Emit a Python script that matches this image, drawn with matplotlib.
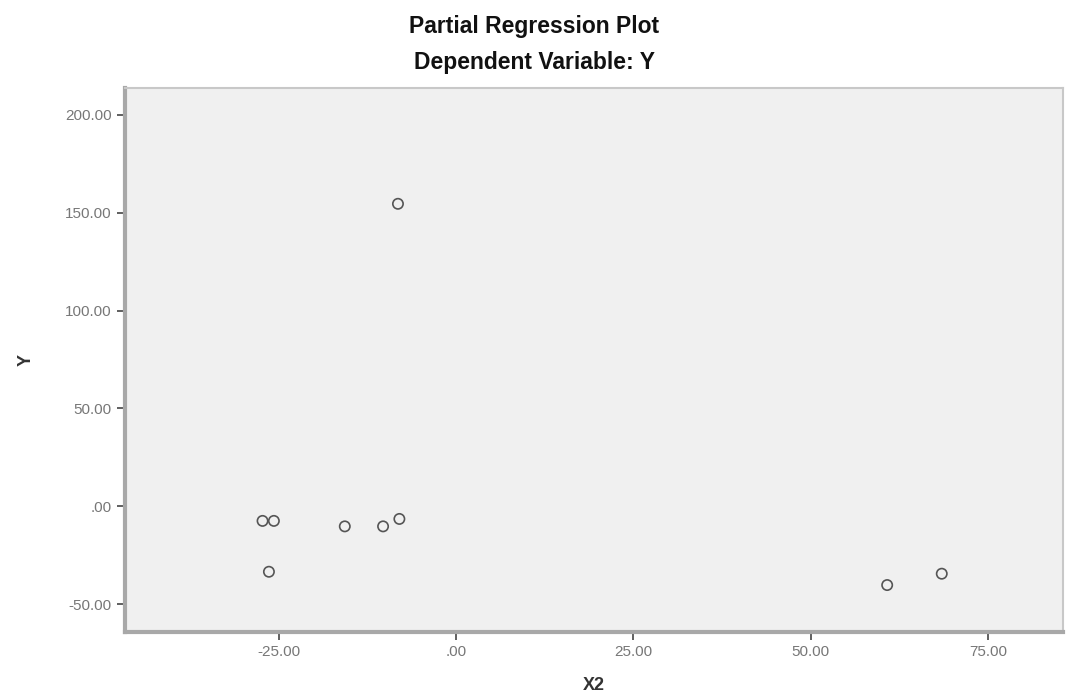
import matplotlib
matplotlib.use("Agg")
import matplotlib.pyplot as plt

# data (partial residuals)
x2_resid = [-8.2, -27.3, -25.7, -26.4, -15.7, -10.3, -8.0, 60.8, 68.5]
y_resid = [154.6, -7.5, -7.5, -33.5, -10.3, -10.3, -6.5, -40.3, -34.5]

x_ticks = [-25, 0, 25, 50, 75]
x_tick_labels = ["-25.00", ".00", "25.00", "50.00", "75.00"]
y_ticks = [-50, 0, 50, 100, 150, 200]
y_tick_labels = ["-50.00", ".00", "50.00", "100.00", "150.00", "200.00"]

plt.rcParams["font.family"] = ["Liberation Sans", "DejaVu Sans"]

fig = plt.figure(figsize=(10.68, 6.96), dpi=100)
ax = fig.add_axes([125/1068, 1-632/696, (1063-125)/1068, (632-88)/696])
ax.set_facecolor("#f0f0f0")

ax.scatter(x2_resid, y_resid, s=55, facecolors="none", edgecolors="#555555", linewidths=1.2, zorder=3)

ax.set_xlim(-46.7, 85.6)
ax.set_ylim(-64.3, 213.8)
ax.set_xticks(x_ticks)
ax.set_xticklabels(x_tick_labels)
ax.set_yticks(y_ticks)
ax.set_yticklabels(y_tick_labels)
ax.tick_params(axis="both", colors="#444444", labelcolor="#777777", labelsize=11, length=6, width=1.2, direction="out")

for side in ["left", "bottom"]:
    ax.spines[side].set_color("#a8a8a8")
    ax.spines[side].set_linewidth(3)
for side in ["top", "right"]:
    ax.spines[side].set_color("#c8c8c8")
    ax.spines[side].set_linewidth(1.5)

ax.set_xlabel("X2", fontsize=13, fontweight="bold", color="#333333", labelpad=13)
ax.set_ylabel("Y", fontsize=13, fontweight="bold", color="#333333", labelpad=22)

fig.text(0.5, 1-27/696, "Partial Regression Plot", ha="center", va="center", fontsize=16.5, fontweight="bold", color="#111111")
fig.text(0.5, 1-62/696, "Dependent Variable: Y", ha="center", va="center", fontsize=16.5, fontweight="bold", color="#111111")

fig.savefig("out.png", dpi=100, facecolor="white")
